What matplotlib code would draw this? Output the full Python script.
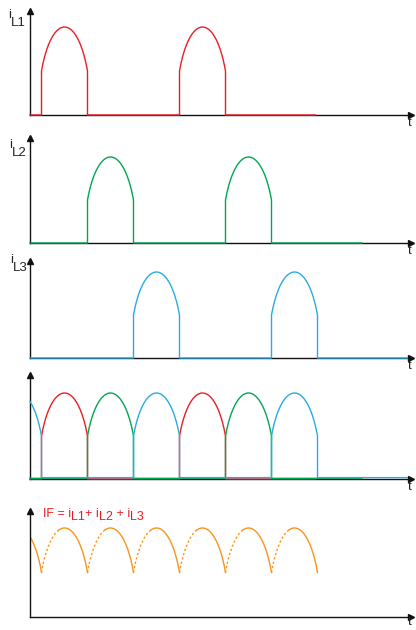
import numpy as np
import matplotlib.pyplot as plt

plt.rcParams['font.family'] = ['Liberation Sans', 'DejaVu Sans']

# electrical angle in degrees, 0 is where the time axis starts
red_starts = [30, 390]
green_starts = [150, 510]
blue_starts = [270, 630]
blue_starts_sum = [-90, 270, 630]   # panel 4 also shows the tail of the previous blue pulse
red_end, green_end, blue_end = 745, 866, 984
conduction = 120                    # each diode conducts for 120 deg
peak = 1.0
edge = 0.5                          # current level at the switching instants
if_starts = [-90, 30, 150, 270, 390, 510, 630]
if_dash = 45                        # first part of each IF arc is dashed

labels = ['L1', 'L2', 'L3']

red = '#ed1c24'
green = '#00a651'
blue = '#29abe2'
orange = '#f7941d'

W, H = 416, 630
deg_per_px = 360 / 138
fig = plt.figure(figsize=(W / 100, H / 100), dpi=100)


def arc(th):
    # rounded pulse top, th = degrees since the pulse started
    u = th / (conduction / 2) - 1
    return peak * np.sqrt(1 - (1 - edge ** 2) * u ** 2)


def pulse_trace(starts, end):
    t, y = [0.0], [0.0]
    for s in starts:
        th = np.linspace(max(0, -s), conduction, 100)
        if s >= 0:
            t += [s]
            y += [0.0]
        else:
            t, y = [], []
        t += list(s + th)
        y += list(arc(th))
        t += [s + conduction]
        y += [0.0]
    t += [end]
    y += [0.0]
    return np.array(t), np.array(y)


def rich_text(x, y, parts, size, color, drop):
    r = fig.canvas.get_renderer()
    for s, sub in parts:
        yy = y + (drop if sub else 0)
        txt = fig.text(x / W, 1 - yy / H, s, fontsize=size, color=color,
                       va='baseline', ha='left')
        x += txt.get_window_extent(renderer=r).width


# baseline, arrow tip (pixels from top) and pixel height of a peak
panels = [(115, 8, 88), (243, 135, 86), (358, 258, 86), (479, 372, 86), (617, 508, 89)]
axes = []
for yb, yt, pk in panels:
    ax = fig.add_axes([30 / W, (H - yb) / H, (411 - 30) / W, (yb - yt - 3) / H])
    ax.set_xlim(0, (411 - 30) * deg_per_px)
    ax.set_ylim(0, (yb - yt - 3) / pk)
    for side in ['top', 'right']:
        ax.spines[side].set_visible(False)
    for side in ['left', 'bottom']:
        ax.spines[side].set_color('#111111')
        ax.spines[side].set_linewidth(1.0)
    ax.set_xticks([])
    ax.set_yticks([])
    ax.patch.set_alpha(0)
    ax.plot(1, 0, '>', color='#111111', ms=5, transform=ax.transAxes, clip_on=False)
    ax.plot(0, 1, '^', color='#111111', ms=5, transform=ax.transAxes, clip_on=False)
    fig.text(410 / W, 1 - min(yb + 11, 625) / H, 't', fontsize=9.5, color='#222222',
             ha='center', va='baseline')
    axes.append(ax)

# single phase currents
for ax, starts, end, c in zip(axes[:3], [red_starts, green_starts, blue_starts],
                              [red_end, green_end, blue_end], [red, green, blue]):
    t, y = pulse_trace(starts, end)
    ax.plot(t, y, color=c, lw=1.0, clip_on=False, zorder=5)

# all three together
for starts, end, c, off in [(red_starts, red_end, red, 0.0),
                            (green_starts, green_end, green, 0.008),
                            (blue_starts_sum, blue_end, blue, 0.016)]:
    t, y = pulse_trace(starts, end)
    ax = axes[3]
    ax.plot(t, y + off * (y < 0.01), color=c, lw=1.0, clip_on=False, zorder=5)

# IF envelope
ax = axes[4]
for s in if_starts:
    if -s < if_dash:
        th = np.linspace(max(0, -s), if_dash, 40)
        ax.plot(s + th, arc(th), color=orange, lw=1.0, ls=(0, (1.6, 1.6)))
    th = np.linspace(max(if_dash, -s), conduction, 80)
    ax.plot(s + th, arc(th), color=orange, lw=1.0)

# labels
label_pos = [(8, 18), (9, 148), (10, 263)]
for (lx, ly), name in zip(label_pos, labels):
    rich_text(lx, ly, [('i', False), (name, True)], 9.5, '#222222', 8)

rich_text(43, 517, [('IF = i', False), ('L1', True), ('+ i', False), ('L2', True),
                    (' + i', False), ('L3', True)], 9, red, 3)

fig.savefig('out.png', dpi=100)
